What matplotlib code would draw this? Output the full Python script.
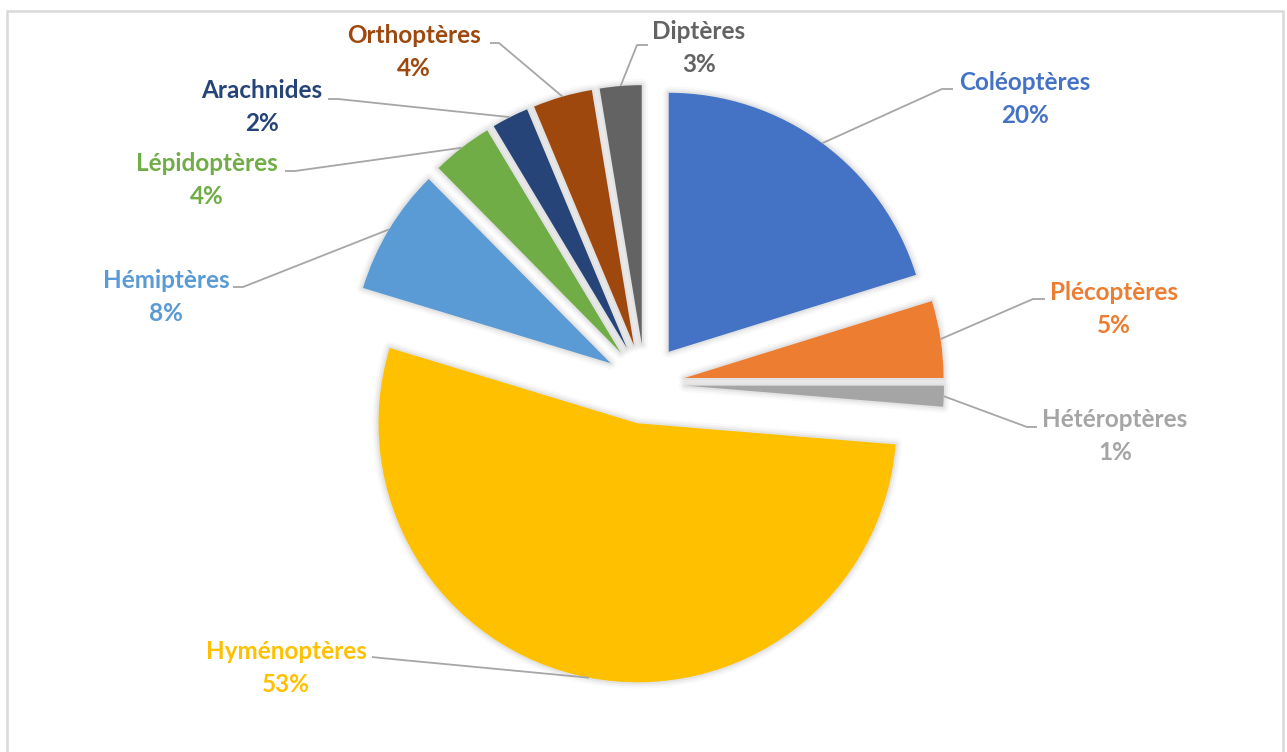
import matplotlib
matplotlib.use("Agg")
import matplotlib.pyplot as plt
import numpy as np
from matplotlib.patches import Rectangle, Wedge

categories = ["Coléoptères", "Plécoptères", "Hétéroptères", "Hyménoptères",
              "Hémiptères", "Lépidoptères", "Arachnides", "Orthoptères", "Diptères"]
values = [20.2, 4.8, 1.3, 53.4, 7.9, 3.8, 2.3, 3.7, 2.6]
colors = ["#4472C4", "#ED7D31", "#A5A5A5", "#FFC000", "#5B9BD5",
          "#70AD47", "#264478", "#9E480E", "#636363"]

W, H = 1287, 752


def P(x, y):
    return (x, H - y)


# label layout in pixel coords: (label center, line end near label, elbow)
label_pos = [(1025, 99), (1114, 309), (1115, 436), (286, 668), (166, 297),
             (207, 180), (262, 107), (414, 52), (699, 48)]
line_end = [(953, 89), (1045, 299), (1037, 427), (372, 657), (233, 287),
            (285, 171), (328, 99), (490, 43), (648, 45)]
elbow = [(942, 89), (1033, 299), (1027, 427), (381, 658), (243, 287),
         (295, 171), (338, 99), (499, 43), (637, 45)]

fig = plt.figure(figsize=(W / 100, H / 100), dpi=100)
ax = fig.add_axes([0, 0, 1, 1])
cx, cy = P(645, 384)
wedges, _ = ax.pie(values, colors=colors, startangle=90, counterclock=False,
                   radius=259, center=(cx, cy), explode=[40] * len(values),
                   wedgeprops=dict(linewidth=0, zorder=2), frame=True)
ax.set_xlim(0, W)
ax.set_ylim(0, H)
ax.set_aspect("equal", adjustable="box")
ax.axis("off")

# soft shadow halo behind each wedge
for w in wedges:
    for lw, a in [(9, 0.025), (6, 0.035), (3, 0.05)]:
        ax.add_patch(Wedge(w.center, w.r, w.theta1, w.theta2, facecolor="none",
                           edgecolor="black", lw=lw, alpha=a, zorder=1,
                           joinstyle="round"))

total = sum(values)
for i, w in enumerate(wedges):
    tm = np.deg2rad((w.theta1 + w.theta2) / 2)
    ax_x = w.center[0] + w.r * np.cos(tm)
    ax_y = w.center[1] + w.r * np.sin(tm)
    ex, ey = P(*elbow[i])
    lx, ly = P(*line_end[i])
    ax.plot([ax_x, ex, lx], [ax_y, ey, ly], color="#A6A6A6", lw=1.3,
            solid_capstyle="butt", zorder=3)
    tx, ty = P(*label_pos[i])
    ax.text(tx, ty, f"{categories[i]}\n{values[i] / total * 100:.0f}%",
            ha="center", va="center", color=colors[i], fontsize=17.5,
            fontweight="bold", family="Lato", linespacing=1.48)

ax.add_patch(Rectangle(P(7, 760), 1276, 749, fill=False, edgecolor="#D9D9D9",
                       lw=1.8, clip_on=False))

fig.savefig("out.png", dpi=100)
